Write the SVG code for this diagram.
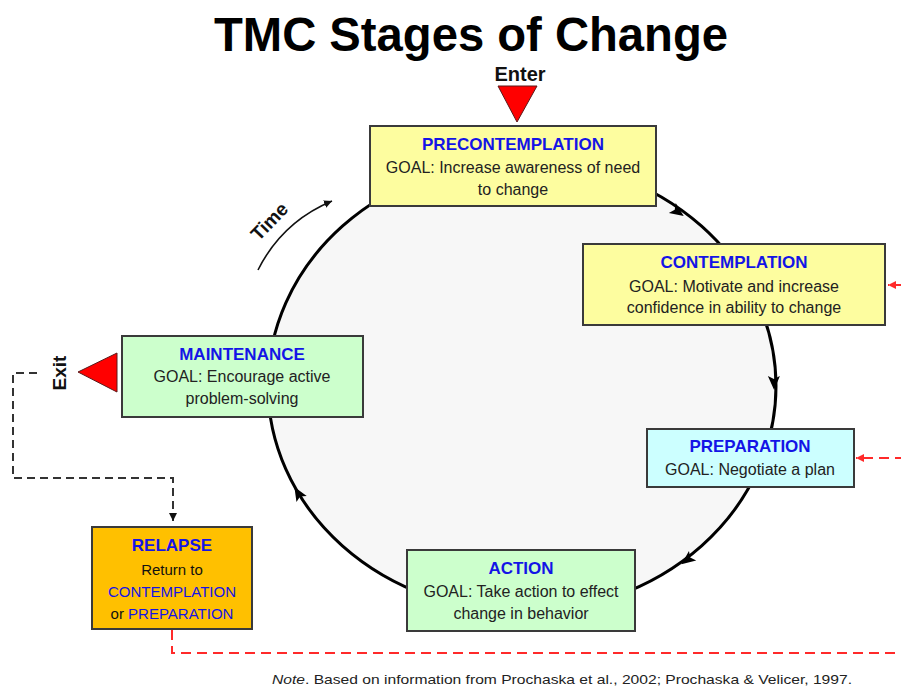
<svg xmlns="http://www.w3.org/2000/svg" width="901" height="690" viewBox="0 0 901 690">
<style>
.box{stroke:#3a3a3a;stroke-width:2}
.hd{font-family:"Liberation Sans",Arial,sans-serif;font-weight:bold;font-size:17px;fill:#1414e6;text-anchor:middle}
.tx{font-family:"Liberation Sans",Arial,sans-serif;font-size:16px;fill:#222;text-anchor:middle}
.rx{font-family:"Liberation Sans",Arial,sans-serif;font-size:15px;fill:#111;text-anchor:middle}
.bl{fill:#1414e6}
.lbl{font-family:"Liberation Sans",Arial,sans-serif;font-weight:bold;fill:#111;text-anchor:middle}
.tri{fill:#ff0000;stroke:#5a1a1a;stroke-width:1}
.red{fill:none;stroke:#ff2a2a;stroke-width:2;stroke-dasharray:10 6}
.blk{fill:none;stroke:#333;stroke-width:2;stroke-dasharray:8 5}
</style>
<defs>
<marker id="mr" markerUnits="userSpaceOnUse" markerWidth="10" markerHeight="10" refX="8" refY="4" orient="auto"><path d="M0,0 L8,4 L0,8 z" fill="#ff2a2a"/></marker>
<marker id="mk" markerUnits="userSpaceOnUse" markerWidth="10" markerHeight="10" refX="8" refY="4" orient="auto"><path d="M0,0 L8,4 L0,8 z" fill="#111"/></marker>
<path id="ah" d="M7,0 L-7,-6 L-4,0 L-7,6 z" fill="#000"/>
</defs>
<rect width="901" height="690" fill="#fff"/>
<text x="471" y="51" font-family="'Liberation Sans',Arial,sans-serif" font-weight="bold" font-size="48" text-anchor="middle" textLength="514" lengthAdjust="spacingAndGlyphs" fill="#000">TMC Stages of Change</text>

<g id="connectors">
<ellipse cx="522" cy="386" rx="254" ry="226" fill="#f7f7f7" stroke="#000" stroke-width="3"/>
<use href="#ah" transform="translate(678,212) rotate(35)"/>
<use href="#ah" transform="translate(774,383) rotate(89)"/>
<use href="#ah" transform="translate(687,560) rotate(143)"/>
<use href="#ah" transform="translate(298,493) rotate(-121)"/>
<path d="M258,270 Q282,222 332,201" fill="none" stroke="#111" stroke-width="1.6" marker-end="url(#mk)"/>
<path class="blk" d="M37,373 H13 V478 H173 V521" marker-end="url(#mk)"/>
<path class="red" d="M172,630 V653 H905"/>
<path class="red" d="M905,285 H888" marker-end="url(#mr)"/>
<path class="red" d="M905,458 H856" marker-end="url(#mr)"/>
</g>

<g id="time">
<text class="lbl" font-size="19" transform="translate(274,226) rotate(-46)">Time</text>
</g>

<g id="enter">
<text class="lbl" x="520" y="81" font-size="20">Enter</text>
<polygon class="tri" points="498,86 537,86 517,122"/>
</g>

<g id="exit">
<text class="lbl" font-size="19" transform="translate(66,373) rotate(-90)">Exit</text>
<polygon class="tri" points="117,353 117,392 78,372"/>
</g>

<g id="precontemplation">
<rect class="box" x="370" y="126" width="286" height="80" fill="#fdfd9f"/>
<text class="hd" x="513" y="150">PRECONTEMPLATION</text>
<text class="tx" x="513" y="173">GOAL: Increase awareness of need</text>
<text class="tx" x="513" y="195">to change</text>
</g>

<g id="contemplation">
<rect class="box" x="583" y="244" width="302" height="81" fill="#fdfd9f"/>
<text class="hd" x="734" y="268">CONTEMPLATION</text>
<text class="tx" x="734" y="292">GOAL: Motivate and increase</text>
<text class="tx" x="734" y="313">confidence in ability to change</text>
</g>

<g id="preparation">
<rect class="box" x="647" y="429" width="207" height="58" fill="#ccffff"/>
<text class="hd" x="750" y="452">PREPARATION</text>
<text class="tx" x="750" y="475">GOAL: Negotiate a plan</text>
</g>

<g id="action">
<rect class="box" x="407" y="550" width="228" height="81" fill="#ccffcc"/>
<text class="hd" x="521" y="574">ACTION</text>
<text class="tx" x="521" y="597">GOAL: Take action to effect</text>
<text class="tx" x="521" y="619">change in behavior</text>
</g>

<g id="maintenance">
<rect class="box" x="122" y="336" width="241" height="81" fill="#ccffcc"/>
<text class="hd" x="242" y="360">MAINTENANCE</text>
<text class="tx" x="242" y="382">GOAL: Encourage active</text>
<text class="tx" x="242" y="404">problem-solving</text>
</g>

<g id="relapse">
<rect class="box" x="92" y="527" width="160" height="102" fill="#ffc000"/>
<text class="hd" x="172" y="551">RELAPSE</text>
<text class="rx" x="172" y="575">Return to</text>
<text class="rx bl" x="172" y="597">CONTEMPLATION</text>
<text class="rx" x="172" y="619">or <tspan class="bl">PREPARATION</tspan></text>
</g>

<g id="note">
<text x="272" y="684" font-family="'Liberation Sans',Arial,sans-serif" font-size="13.5" fill="#222" textLength="580" lengthAdjust="spacingAndGlyphs"><tspan font-style="italic">Note</tspan>. Based on information from Prochaska et al., 2002; Prochaska &amp; Velicer, 1997.</text>
</g>
</svg>
